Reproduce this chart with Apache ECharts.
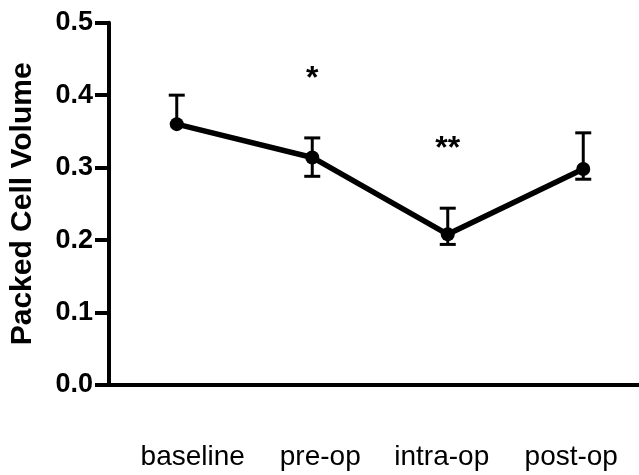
<!DOCTYPE html>
<html>
<head>
<meta charset="utf-8">
<title>Packed Cell Volume</title>
<script src="https://cdn.jsdelivr.net/npm/echarts@6/dist/echarts.min.js"></script>
<style>
  html, body { margin: 0; padding: 0; background: #fff; overflow: hidden; width: 639px; height: 475px; }
  /* the x axis runs off the right edge in the original, so the canvas is a bit wider than the window */
  #chart { width: 651px; height: 475px; }
</style>
</head>
<body>
<div id="chart"></div>
<script>
// categories along the x axis
const stages = ["baseline", "pre-op", "intra-op", "post-op"];
// mean packed cell volume
const pcvMean = [0.36, 0.314, 0.208, 0.298];
// error bar ends (lower / upper)
const pcvLow = [0.36, 0.288, 0.194, 0.284];
const pcvHigh = [0.40, 0.341, 0.244, 0.348];
// significance marks
const sigMarks = ["", "*", "**", ""];
// y ticks
const yTicks = [0, 0.1, 0.2, 0.3, 0.4, 0.5];

// small nudge of each category label (px), labels in the original are not centered on ticks
const labelShift = [16, 8, -6, -12];

const font = "'Liberation Sans', Arial, Helvetica, sans-serif";

const chart = echarts.init(document.getElementById("chart"));

// error bars + asterisks
const errData = stages.map((s, i) => [i, pcvLow[i], pcvHigh[i], pcvMean[i], sigMarks[i]]);

function renderErr(params, api) {
  const x = api.value(0);
  const lo = api.coord([x, api.value(1)]);
  const hi = api.coord([x, api.value(2)]);
  const mid = api.coord([x, api.value(3)]);
  const capW = 8;
  const lineStyle = { stroke: "#000", lineWidth: 3 };
  const children = [];
  children.push({ type: "line", shape: { x1: hi[0], y1: hi[1], x2: hi[0], y2: mid[1] }, style: lineStyle });
  children.push({ type: "line", shape: { x1: hi[0] - capW, y1: hi[1], x2: hi[0] + capW, y2: hi[1] }, style: lineStyle });
  if (lo[1] - mid[1] > 1) {
    children.push({ type: "line", shape: { x1: lo[0], y1: mid[1], x2: lo[0], y2: lo[1] }, style: lineStyle });
    children.push({ type: "line", shape: { x1: lo[0] - capW, y1: lo[1], x2: lo[0] + capW, y2: lo[1] }, style: lineStyle });
  }
  const mark = sigMarks[params.dataIndex];
  if (mark) {
    children.push({
      type: "text",
      style: {
        text: mark,
        x: hi[0],
        y: hi[1] - 59,
        align: "center",
        verticalAlign: "middle",
        font: "bold 32px " + font,
        fill: "#000"
      }
    });
  }
  return { type: "group", children: children };
}

const option = {
  backgroundColor: "#fff",
  animation: false,
  grid: {
    left: 107,
    top: 22.7,
    width: 544,
    height: 362.3,
    containLabel: false
  },
  xAxis: {
    type: "category",
    data: stages,
    boundaryGap: true,
    axisLine: { lineStyle: { color: "#000", width: 4 } },
    axisTick: { alignWithLabel: true, length: 15, lineStyle: { color: "#000", width: 4 } },
    axisLabel: {
      margin: 58,
      color: "#000",
      fontSize: 28,
      fontFamily: font,
      interval: 0,
      formatter: function (v, i) {
        return "{s" + i + "|" + v + "}";
      },
      rich: {
        s0: { fontSize: 28, fontFamily: font, color: "#000", padding: [0, 0, 0, 2 * labelShift[0]] },
        s1: { fontSize: 28, fontFamily: font, color: "#000", padding: [0, 0, 0, 2 * labelShift[1]] },
        s2: { fontSize: 28, fontFamily: font, color: "#000", padding: [0, -2 * labelShift[2], 0, 0] },
        s3: { fontSize: 28, fontFamily: font, color: "#000", padding: [0, -2 * labelShift[3], 0, 0] }
      }
    },
    splitLine: { show: false }
  },
  yAxis: {
    type: "value",
    min: yTicks[0],
    max: yTicks[yTicks.length - 1],
    interval: 0.1,
    name: "Packed Cell Volume",
    nameLocation: "middle",
    nameGap: 71,
    nameTextStyle: { color: "#000", fontSize: 30, fontWeight: "bold", fontFamily: font },
    axisLine: { show: true, lineStyle: { color: "#000", width: 4 } },
    axisTick: { show: true, length: 14, lineStyle: { color: "#000", width: 4 } },
    axisLabel: {
      margin: 16,
      color: "#000",
      fontSize: 27,
      fontWeight: "bold",
      fontFamily: font,
      formatter: (v) => v.toFixed(1)
    },
    splitLine: { show: false }
  },
  series: [
    {
      type: "custom",
      renderItem: renderErr,
      data: errData,
      z: 3,
      silent: true
    },
    {
      type: "line",
      data: pcvMean,
      symbol: "circle",
      symbolSize: 14,
      itemStyle: { color: "#000" },
      lineStyle: { color: "#000", width: 5.5 },
      z: 4
    }
  ]
};

chart.setOption(option);
</script>
</body>
</html>
